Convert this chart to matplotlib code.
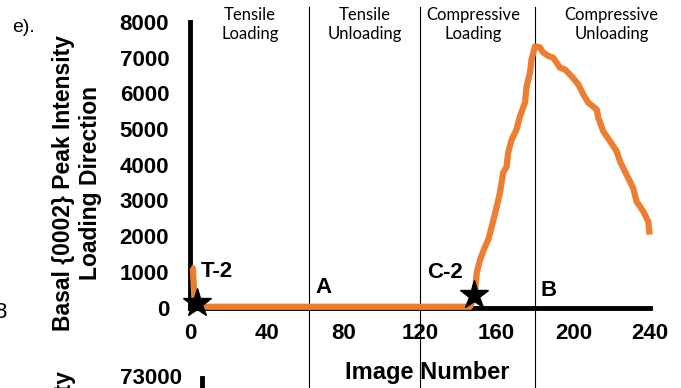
import matplotlib
matplotlib.use('Agg')
from matplotlib import pyplot as plt

# peak intensity vs image number
image_no = [0.5, 1.5, 2.5, 10, 40, 80, 120, 146, 148.4, 149.6, 151.3, 153.9, 155.6,
            157.4, 160.0, 161.7, 163.4, 165.2, 166.0, 167.8, 170.4, 172.1, 174.8,
            175.6, 177.4, 178.2, 180.0, 182.6, 184.1, 186.9, 189.5, 191.3, 193.0,
            195.6, 199.1, 202.6, 205.2, 207.8, 212.2, 213.0, 215.6, 219.1, 222.6,
            224.3, 227.8, 231.2, 233.0, 236.5, 239.1, 239.8]
intensity = [1130, 1100, 30, 20, 20, 20, 20, 20, 300, 970, 1330, 1700, 1900,
             2260, 2820, 3220, 3780, 3950, 4340, 4700, 4990, 5350, 5740,
             6190, 6590, 6950, 7320, 7290, 7150, 7050, 7000, 6860, 6720,
             6670, 6480, 6250, 5970, 5740, 5550, 5320, 4940, 4660, 4380,
             4100, 3720, 3350, 2970, 2690, 2410, 2040]

# stage boundaries and stage names
stage_bounds = [62, 120, 180]
stage_names = ['Tensile\nLoading', 'Tensile\nUnloading',
               'Compressive\nLoading', 'Compressive\nUnloading']
stage_centers = [31.3, 91.1, 147.6, 220.0]

# star markers and point labels
star_x = [3.9, 148.1]
star_y = [115, 350]
point_names = ['T-2', 'A', 'C-2', 'B']
point_x = [14.1, 69.6, 133.0, 187.3]
point_y = [997, 562, 969, 463]

x_ticks = [0, 40, 80, 120, 160, 200, 240]
y_ticks = [0, 1000, 2000, 3000, 4000, 5000, 6000, 7000, 8000]

plt.rcParams['font.family'] = ['Liberation Sans', 'DejaVu Sans']

W, H = 681, 388
fig = plt.figure(figsize=(W / 100, H / 100), dpi=100)
ax = fig.add_axes([190 / W, 1 - 307.5 / H, 460 / W, 285.5 / H])

ax.plot(image_no, intensity, color='#ED7D31', lw=4.5, zorder=3,
        clip_on=False, solid_capstyle='butt')
ax.plot(star_x, star_y, ls='none', marker='*', ms=21, color='black',
        zorder=4, clip_on=False)

for xb in stage_bounds:
    ax.axvline(xb, ymin=-0.29, ymax=1.052, color='black', lw=0.8,
               clip_on=False, zorder=1)

for name, xc in zip(stage_names, stage_centers):
    ax.text(xc, 0.99, name, transform=ax.get_xaxis_transform(),
            ha='center', va='center', fontsize=12, family='Lato',
            linespacing=1.25)

for name, px, py in zip(point_names, point_x, point_y):
    ax.text(px, py, name, ha='center', va='center', fontsize=16,
            fontweight='bold')

ax.set_xlim(0, 240)
ax.set_ylim(0, 8000)
ax.set_xticks(x_ticks)
ax.set_yticks(y_ticks)
for side in ['top', 'right']:
    ax.spines[side].set_visible(False)
for side in ['left', 'bottom']:
    ax.spines[side].set_linewidth(3.5)
    ax.spines[side].set_color('black')
ax.tick_params(axis='both', length=0, labelsize=16)
ax.tick_params(axis='y', pad=15)
ax.tick_params(axis='x', pad=11)
for lab in ax.get_xticklabels() + ax.get_yticklabels():
    lab.set_fontweight('bold')

fig.text(427 / W, 1 - 373 / H, 'Image Number', ha='center', va='center',
         fontsize=17, fontweight='bold')
fig.text(77 / W, 1 - 183 / H, 'Basal {0002} Peak Intensity\nLoading Direction',
         rotation=90, ha='center', va='center', fontsize=16.5,
         fontweight='bold', linespacing=1.2, multialignment='center')
fig.text(12 / W, 1 - 27 / H, 'e).', ha='left', va='center', fontsize=14)

# pieces of the neighbouring panels
fig.text(7 / W, 1 - 312 / H, '8', ha='right', va='center', fontsize=16)
fig.text(182 / W, 1 - 379 / H, '73000', ha='right', va='center',
         fontsize=16, fontweight='bold')
fig.text(63 / W, 1 - 369 / H, 'Intensity', rotation=90, ha='center',
         va='top', fontsize=16.5, fontweight='bold')
fig.add_artist(plt.Line2D([202 / W, 202 / W], [1 - 378 / H, 0],
                          color='black', lw=3.5))

fig.savefig('out.png', dpi=100)
